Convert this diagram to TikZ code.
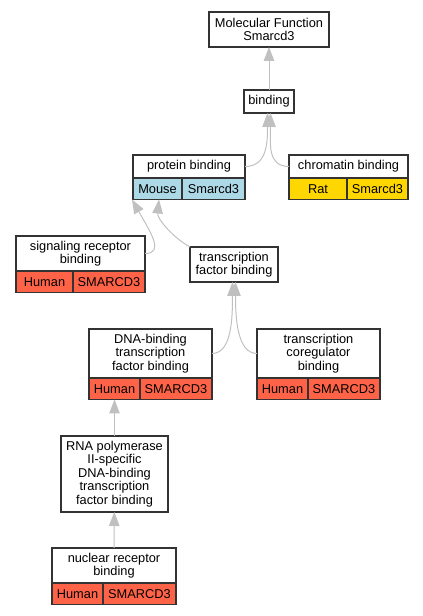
\documentclass[tikz,border=0pt]{standalone}
\usepackage{fontspec}
\setmainfont{Liberation Sans}
\usetikzlibrary{arrows.meta,positioning}
\definecolor{edgegray}{HTML}{C0C0C0}
\definecolor{mouseblue}{HTML}{ADD8E6}
\definecolor{ratgold}{HTML}{FFD700}
\definecolor{humanred}{HTML}{FF6347}
\definecolor{boxline}{HTML}{333333}

\begin{document}
\begin{tikzpicture}[x=1pt,y=1pt,
                    term/.style={draw=boxline,line width=1.2pt,fill=white,align=center,
                      inner sep=0pt,outer sep=0pt,font=\fontsize{12.8}{13.4}\selectfont},
                    cell/.style={term,minimum height=21.5pt},
                    mouse/.style={cell,fill=mouseblue},
                    rat/.style={cell,fill=ratgold},
                    human/.style={cell,fill=humanred},
                    isa/.style={-{Triangle[length=14pt,width=10.5pt]},draw=edgegray,line width=1pt}]

	\useasboundingbox (0,0) rectangle (423,616);

	\node[term,minimum width=120pt,minimum height=35pt] (mf) at (269,586.5)	{Molecular Function\\Smarcd3};
	\node[term,minimum width=50pt,minimum height=23pt] (bd) at (269,514.5)	{binding};

	\node[term,minimum width=112pt,minimum height=23pt] (pb) at (189,449.5)	{protein binding};
	\node[mouse,minimum width=49pt,anchor=north west] (pbA) at (pb.south west)	{Mouse};
	\node[mouse,minimum width=63pt,anchor=north east] (pbB) at (pb.south east)	{Smarcd3};

	\node[term,minimum width=119pt,minimum height=23pt] (cb) at (348.5,449.5)	{chromatin binding};
	\node[rat,minimum width=58pt,anchor=north west] (cbA) at (cb.south west)	{Rat};
	\node[rat,minimum width=61pt,anchor=north east] (cbB) at (cb.south east)	{Smarcd3};

	\node[term,minimum width=129pt,minimum height=35pt] (sr) at (80.5,362.5)	{signaling receptor\\binding};
	\node[human,minimum width=57pt,anchor=north west] (srA) at (sr.south west)	{Human};
	\node[human,minimum width=72pt,anchor=north east] (srB) at (sr.south east)	{SMARCD3};

	\node[term,minimum width=88pt,minimum height=35pt] (tfb) at (234,351.5)	{transcription\\factor binding};

	\node[term,minimum width=123pt,minimum height=49pt] (dna) at (150.5,262.5)	{DNA-binding\\transcription\\factor binding};
	\node[human,minimum width=51pt,anchor=north west] (dnaA) at (dna.south west)	{Human};
	\node[human,minimum width=72pt,anchor=north east] (dnaB) at (dna.south east)	{SMARCD3};

	\node[term,minimum width=123pt,minimum height=49pt] (cr) at (318.5,262.5)	{transcription\\coregulator\\binding};
	\node[human,minimum width=51pt,anchor=north west] (crA) at (cr.south west)	{Human};
	\node[human,minimum width=72pt,anchor=north east] (crB) at (cr.south east)	{SMARCD3};

	\node[term,minimum width=107pt,minimum height=76pt] (rna) at (114.5,142)	{RNA polymerase\\II-specific\\DNA-binding\\transcription\\factor binding};

	\node[term,minimum width=124pt,minimum height=35pt] (nr) at (114,50.5)	{nuclear receptor\\binding};
	\node[human,minimum width=51pt,anchor=north west] (nrA) at (nr.south west)	{Human};
	\node[human,minimum width=73pt,anchor=north east] (nrB) at (nr.south east)	{SMARCD3};

	\draw[isa] (bd) -- (mf);
	\draw[isa] (pb.east) .. controls +(22,0) and +(0,-30) .. ([xshift=-1.5pt]bd.south);
	\draw[isa] (cb.west) .. controls +(-22,0) and +(0,-30) .. ([xshift=1.5pt]bd.south);

	\draw[isa] (sr.east) .. controls +(20,0) and +(18,-32) .. ([xshift=-1pt]pbA.south west);
	\draw[isa] (tfb.north west) .. controls +(-15,8) and +(-2,-20) .. ([xshift=1.5pt]pbA.south);

	\draw[isa] (dna.east) .. controls +(20,0) and +(0,-35) .. ([xshift=-1.5pt]tfb.south);
	\draw[isa] (cr.west) .. controls +(-20,0) and +(0,-35) .. ([xshift=1.5pt]tfb.south);

	\draw[isa] (rna) -- (dnaA);
	\draw[isa] (nr) -- (rna);

\end{tikzpicture}
\end{document}
